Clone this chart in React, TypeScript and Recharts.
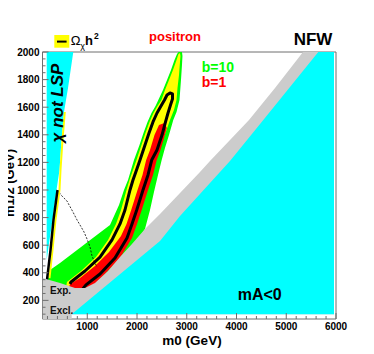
import React from 'react';
import { ComposedChart, Scatter, XAxis, YAxis, ReferenceLine } from 'recharts';

const FONT = '"Liberation Sans", Arial, Helvetica, sans-serif';
const AXIS = '#6e6e6e';

type P = [number, number];

// axis ticks
const xMajorTicks = [1000, 2000, 3000, 4000, 5000, 6000];
const xMinorTicks = [200, 400, 600, 800, 1200, 1400, 1600, 1800, 2200, 2400, 2600, 2800, 3200, 3400, 3600, 3800, 4200, 4400, 4600, 4800, 5200, 5400, 5600, 5800];
const yMajorTicks = [200, 400, 600, 800, 1000, 1200, 1400, 1600, 1800, 2000];
const yMinorTicks = [100, 150, 250, 300, 350, 450, 500, 550, 650, 700, 750, 850, 900, 950, 1050, 1100, 1150, 1250, 1300, 1350, 1450, 1500, 1550, 1650, 1700, 1750, 1850, 1900, 1950];

// regions (m0, m1/2)
const mANegRegion: P[] = [[687, 100], [2462, 630], [2864, 811], [3266, 971], [3869, 1210], [4506, 1493], [5075, 1746], [5644, 2000], [5960, 2000], [5960, 100]];
const excludedRegion: P[] = [[100, 362], [452, 326], [753, 290], [954, 290], [1155, 326], [1417, 413], [1658, 514], [1899, 609], [2160, 717], [2462, 826], [2864, 978], [3266, 1130], [3467, 1210], [3869, 1362], [4251, 1507], [4774, 1739], [5337, 2000], [5497, 2000], [5718, 2000], [5960, 2000], [5960, 100], [687, 100], [687, 65], [100, 65]];
const bTenRegion: P[] = [[170, 312], [211, 355], [251, 420], [452, 471], [954, 609], [1457, 746], [1638, 891], [1738, 1000], [1819, 1072], [1879, 1145], [1939, 1217], [2050, 1326], [2130, 1413], [2211, 1493], [2291, 1558], [2372, 1609], [2428, 1652], [2522, 1725], [2603, 1797], [2683, 1870], [2753, 1942], [2804, 1986], [2834, 2000], [2904, 2000], [2914, 1971], [2904, 1906], [2884, 1797], [2854, 1652], [2794, 1565], [2729, 1507], [2643, 1398], [2562, 1304], [2496, 1217], [2422, 1109], [2341, 985], [2261, 855], [2160, 717], [2020, 638], [1658, 507], [1256, 312], [854, 261], [251, 261]];
const relicRegion: P[] = [[552, 261], [592, 333], [874, 413], [1175, 514], [1417, 638], [1577, 754], [1678, 855], [1789, 1000], [1849, 1072], [1919, 1145], [1990, 1217], [2090, 1326], [2170, 1413], [2251, 1493], [2331, 1558], [2412, 1609], [2492, 1652], [2562, 1725], [2643, 1797], [2723, 1870], [2794, 1942], [2834, 1986], [2864, 1993], [2874, 1971], [2864, 1928], [2844, 1833], [2814, 1739], [2794, 1652], [2743, 1580], [2663, 1507], [2593, 1435], [2502, 1348], [2412, 1268], [2361, 1217], [2291, 1109], [2191, 1000], [2060, 855], [1970, 754], [1869, 652], [1628, 507], [1326, 391], [1045, 312], [954, 261]];
const bOneRegion: P[] = [[613, 275], [653, 319], [854, 362], [1155, 449], [1437, 551], [1678, 667], [1789, 754], [1883, 855], [2010, 1000], [2110, 1109], [2184, 1217], [2261, 1290], [2351, 1398], [2442, 1471], [2552, 1485], [2599, 1449], [2532, 1362], [2472, 1290], [2396, 1217], [2321, 1109], [2221, 1000], [2094, 855], [2000, 754], [1899, 652], [1658, 507], [1356, 391], [1155, 319], [1015, 261], [693, 254]];
const wmapCurve: P[] = [[653, 319], [673, 333], [954, 413], [1256, 514], [1497, 638], [1658, 754], [1758, 855], [1859, 1000], [1919, 1072], [1990, 1145], [2060, 1217], [2160, 1326], [2241, 1413], [2321, 1493], [2402, 1558], [2482, 1609], [2552, 1652], [2603, 1688], [2663, 1703], [2713, 1696], [2713, 1659], [2673, 1616], [2623, 1558], [2573, 1493], [2502, 1398], [2402, 1290], [2295, 1217], [2221, 1109], [2120, 1000], [1994, 855], [1899, 754], [1799, 652], [1557, 507], [1256, 391], [974, 312], [894, 275]];
const dashedCurve: P[] = [[391, 1000], [492, 956], [592, 920], [713, 840], [794, 783], [854, 746], [934, 696], [995, 645], [1055, 587], [1095, 522], [1155, 471], [1196, 442]];
const notLspRegion: P[] = [[184, 2000], [719, 2000], [613, 1739], [532, 1565], [482, 1362], [442, 1145], [381, 1000], [341, 891], [301, 783], [241, 638], [184, 493]];
const lspEdgeYellow: P[] = [[548, 1565], [502, 1362], [462, 1145], [442, 1000], [402, 891], [361, 783], [301, 565], [241, 362]];
const lspEdgeBlack: P[] = [[402, 1000], [361, 891], [321, 783], [261, 565], [190, 348]];

const toPts = (a: P[]) => a.map(([x, y]) => ({ x, y }));

const hidden = () => <g />;

function pathOf(pts: any[], close: boolean) {
  return 'M' + pts.map((q: any) => `${q.x.toFixed(2)},${q.y.toFixed(2)}`).join('L') + (close ? 'Z' : '');
}

function fillPath(fill: string) {
  return (p: any) => {
    const pts = (p && p.points) || [];
    if (pts.length < 2) return <g />;
    return <path d={pathOf(pts, true)} fill={fill} stroke="none" />;
  };
}

function strokePath(stroke: string, w: number, dash?: string) {
  return (p: any) => {
    const pts = (p && p.points) || [];
    if (pts.length < 2) return <g />;
    return (
      <path d={pathOf(pts, false)} fill="none" stroke={stroke} strokeWidth={w}
        strokeDasharray={dash} strokeLinejoin="round" strokeLinecap="butt" />
    );
  };
}

const YTick = (props: any) => {
  const { x, y, payload } = props;
  const v = payload.value;
  const major = yMajorTicks.includes(v);
  return (
    <g>
      <line x1={x} y1={y} x2={x + (major ? 6 : 3)} y2={y} stroke={AXIS} strokeWidth={1} />
      {major && (
        <text x={x - 3} y={y + 3.6} textAnchor="end" fontFamily={FONT} fontWeight="bold" fontSize={10} fill="#000">
          {v}
        </text>
      )}
    </g>
  );
};

const XTick = (props: any) => {
  const { x, y, payload } = props;
  const v = payload.value;
  const major = xMajorTicks.includes(v);
  return (
    <g>
      <line x1={x} y1={y} x2={x} y2={y - (major ? 6 : 3)} stroke={AXIS} strokeWidth={1} />
      {major && (
        <text x={x} y={y + 10.8} textAnchor="middle" fontFamily={FONT} fontWeight="bold" fontSize={10} fill="#000">
          {v}
        </text>
      )}
    </g>
  );
};

const xTicks = [...xMinorTicks, ...xMajorTicks].sort((a, b) => a - b);
const yTicks = [...yMinorTicks, ...yMajorTicks].sort((a, b) => a - b);

export default function App() {
  const series: { data: P[]; line: any }[] = [
    { data: bTenRegion, line: fillPath('#00ff00') },
    { data: relicRegion, line: fillPath('#ffff00') },
    { data: bOneRegion, line: fillPath('#ff0000') },
    { data: wmapCurve, line: strokePath('#000000', 3) },
    { data: dashedCurve, line: strokePath('#000000', 0.8, '2,1.5') },
    { data: notLspRegion, line: fillPath('#00ffff') },
    { data: lspEdgeYellow, line: strokePath('#ffff00', 2) },
    { data: lspEdgeBlack, line: strokePath('#000000', 2.5) },
    { data: excludedRegion, line: fillPath('#cccccc') },
    { data: mANegRegion, line: fillPath('#00ffff') },
  ];
  return (
    <div style={{ position: 'relative', width: 366, height: 346 }}>
      <ComposedChart width={366} height={346} margin={{ top: 44, right: 38, bottom: 0, left: 0 }}>
        <XAxis type="number" dataKey="x" domain={[100, 6000]} allowDataOverflow ticks={xTicks} interval={0}
          tick={XTick} tickLine={false} tickSize={0} tickMargin={0} height={35}
          axisLine={{ stroke: AXIS }} />
        <YAxis type="number" dataKey="y" domain={[65, 2000]} allowDataOverflow ticks={yTicks} interval={0}
          tick={YTick} tickLine={false} tickSize={0} tickMargin={0} width={34.5}
          axisLine={{ stroke: AXIS }} />
        {series.map((s, i) => (
          <Scatter key={i} data={toPts(s.data)} line={s.line} lineJointType="linear" shape={hidden}
            isAnimationActive={false} fill="none" />
        ))}
        <ReferenceLine y={2000} stroke={AXIS} strokeWidth={1} />
        <ReferenceLine x={6000} stroke={AXIS} strokeWidth={1} />
      </ComposedChart>
      <svg width={374} height={354}
        style={{ position: 'absolute', left: -8, top: -8, pointerEvents: 'none' }} fontFamily={FONT}>
        <g transform="translate(8 8)">
          <rect x={46.3} y={27} width={15} height={12.7} fill="#ffff00" />
          <line x1={49} y1={33.6} x2={58.6} y2={33.6} stroke="#000" strokeWidth={2} />
          <text x={62.7} y={37} fontSize={13} fill="#000">Ω</text>
          <text x={72.3} y={40.5} fontSize={9} fill="#000">χ</text>
          <text x={77} y={37} fontSize={13} fontWeight="bold" fill="#000">h</text>
          <text x={86} y={31.3} fontSize={8.5} fontWeight="bold" fill="#000">2</text>
          <text x={167} y={32.6} textAnchor="middle" fontSize={13} fontWeight="bold" fill="#ff0000">positron</text>
          <text x={305} y={37} textAnchor="middle" fontSize={17} fontWeight="bold" fill="#000">NFW</text>
          <text x={193.7} y={63.7} fontSize={14} fontWeight="bold" fill="#00ff00">b=10</text>
          <text x={193.7} y={78.7} fontSize={14} fontWeight="bold" fill="#ff0000">b=1</text>
          <text x={55.3} y={95} transform="rotate(-90 55.3 95)" textAnchor="middle" fontSize={17} fontWeight="bold" fontStyle="italic" fill="#000">χ not LSP</text>
          <text x={229.7} y={292} fontSize={16} fontWeight="bold" fill="#000">mA&lt;0</text>
          <text x={42} y={286} fontSize={10} fontWeight="bold" fill="#111">Exp.</text>
          <text x={42} y={306} fontSize={10} fontWeight="bold" fill="#111">Excl.</text>
          <text x={5.5} y={175} transform="rotate(-90 5.5 175)" textAnchor="middle" fontSize={13} fontWeight="bold" fill="#000">m1/2 (GeV)</text>
          <text x={184} y={336.5} textAnchor="middle" fontSize={13.5} fontWeight="bold" fill="#000">m0 (GeV)</text>
        </g>
      </svg>
    </div>
  );
}
